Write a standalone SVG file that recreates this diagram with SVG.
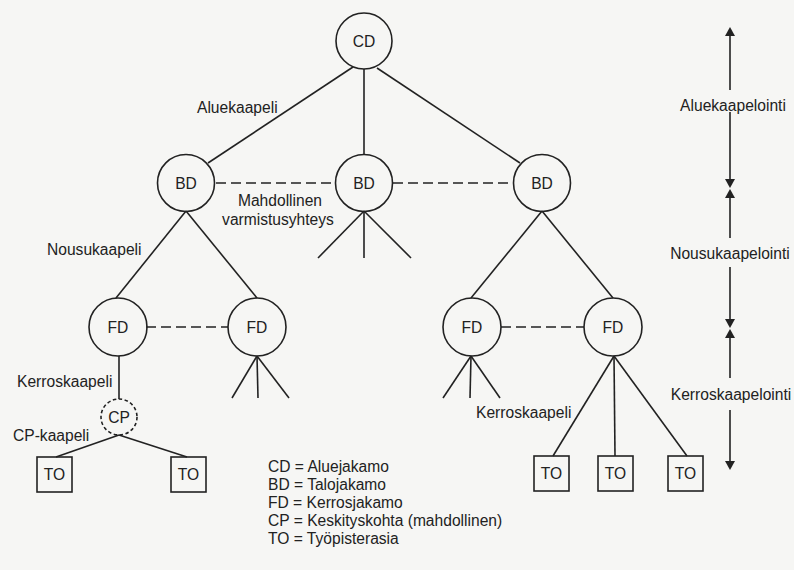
<svg xmlns="http://www.w3.org/2000/svg" width="794" height="570" viewBox="0 0 794 570">
<style>
.bg{fill:#f6f6f4}
.n{fill:none;stroke:#222;stroke-width:1.6}
.c{stroke:#222;stroke-width:1.6;fill:none}
.d{stroke:#222;stroke-width:1.6;fill:none;stroke-dasharray:10 5}
.cp{fill:none;stroke:#222;stroke-width:1.6;stroke-dasharray:3.5 2.5}
text{font-family:"Liberation Sans",Arial,sans-serif;font-size:15.6px;fill:#222}
.m{text-anchor:middle}
.ah{fill:#222}
</style>
<rect class="bg" x="0" y="0" width="794" height="570"/>
<g id="connectors">
  <line class="c" x1="353" y1="67" x2="208" y2="163"/>
  <line class="c" x1="364" y1="69" x2="364" y2="154"/>
  <line class="c" x1="377" y1="68" x2="520" y2="163"/>
  <line class="d" x1="216" y1="183" x2="335" y2="183"/>
  <line class="d" x1="393" y1="183" x2="513" y2="183"/>
  <line class="c" x1="186" y1="211" x2="116" y2="298"/>
  <line class="c" x1="186" y1="211" x2="257" y2="298"/>
  <line class="c" x1="364" y1="211" x2="318" y2="258"/>
  <line class="c" x1="364" y1="211" x2="364" y2="258"/>
  <line class="c" x1="364" y1="211" x2="411" y2="258"/>
  <line class="c" x1="542" y1="211" x2="471" y2="298"/>
  <line class="c" x1="542" y1="211" x2="613" y2="298"/>
  <line class="d" x1="146" y1="327" x2="228" y2="327"/>
  <line class="d" x1="501" y1="327" x2="584" y2="327"/>
  <line class="c" x1="119" y1="356" x2="119" y2="399"/>
  <line class="c" x1="257" y1="356" x2="232" y2="398"/>
  <line class="c" x1="257" y1="356" x2="258" y2="398"/>
  <line class="c" x1="257" y1="356" x2="289" y2="398"/>
  <line class="c" x1="471" y1="356" x2="443" y2="398"/>
  <line class="c" x1="471" y1="356" x2="470" y2="398"/>
  <line class="c" x1="471" y1="356" x2="500" y2="398"/>
  <line class="c" x1="119" y1="435" x2="56" y2="457"/>
  <line class="c" x1="119" y1="435" x2="187" y2="457"/>
  <line class="c" x1="614" y1="356" x2="553" y2="456"/>
  <line class="c" x1="614" y1="356" x2="615" y2="456"/>
  <line class="c" x1="614" y1="356" x2="687" y2="456"/>
</g>
<g id="CD"><circle class="n" cx="364" cy="41" r="28"/><text class="m" x="364" y="46.5">CD</text></g>
<g id="BD1"><circle class="n" cx="186" cy="183" r="28.5"/><text class="m" x="186" y="188.5">BD</text></g>
<g id="BD2"><circle class="n" cx="364" cy="183" r="28.5"/><text class="m" x="364" y="188.5">BD</text></g>
<g id="BD3"><circle class="n" cx="542" cy="183" r="28.5"/><text class="m" x="542" y="188.5">BD</text></g>
<g id="FD1"><circle class="n" cx="118" cy="327" r="29"/><text class="m" x="118" y="332.5">FD</text></g>
<g id="FD2"><circle class="n" cx="257" cy="327" r="29"/><text class="m" x="257" y="332.5">FD</text></g>
<g id="FD3"><circle class="n" cx="472" cy="327" r="29"/><text class="m" x="472" y="332.5">FD</text></g>
<g id="FD4"><circle class="n" cx="613" cy="327" r="29"/><text class="m" x="613" y="332.5">FD</text></g>
<g id="CP"><circle class="cp" cx="119" cy="417" r="18"/><text class="m" x="119" y="422.5">CP</text></g>
<g id="TO1"><rect class="n" x="37" y="457" width="35" height="35"/><text class="m" x="54.5" y="480">TO</text></g>
<g id="TO2"><rect class="n" x="171" y="457" width="35" height="35"/><text class="m" x="188.5" y="480">TO</text></g>
<g id="TO3"><rect class="n" x="534" y="456" width="35" height="35"/><text class="m" x="551.5" y="479">TO</text></g>
<g id="TO4"><rect class="n" x="598" y="456" width="35" height="35"/><text class="m" x="615.5" y="479">TO</text></g>
<g id="TO5"><rect class="n" x="668" y="456" width="35" height="35"/><text class="m" x="685.5" y="479">TO</text></g>
<g id="labels">
  <text x="197" y="113">Aluekaapeli</text>
  <text class="m" x="280" y="206">Mahdollinen</text>
  <text class="m" x="278" y="225">varmistusyhteys</text>
  <text x="47" y="255">Nousukaapeli</text>
  <text x="17" y="387">Kerroskaapeli</text>
  <text x="13" y="441">CP-kaapeli</text>
  <text x="476" y="418">Kerroskaapeli</text>
</g>
<g id="legend">
  <text x="268" y="472">CD = Aluejakamo</text>
  <text x="268" y="490">BD = Talojakamo</text>
  <text x="268" y="508">FD = Kerrosjakamo</text>
  <text x="268" y="526">CP = Keskityskohta (mahdollinen)</text>
  <text x="268" y="544">TO = Työpisterasia</text>
</g>
<g id="scale">
  <line class="c" x1="730" y1="34" x2="730" y2="90"/>
  <polygon class="ah" points="730,27 725,36 735,36"/>
  <text class="m" x="733" y="111">Aluekaapelointi</text>
  <line class="c" x1="730" y1="112" x2="730" y2="181"/>
  <polygon class="ah" points="730,188 725,179 735,179"/>
  <polygon class="ah" points="730,189 725,198 735,198"/>
  <line class="c" x1="730" y1="196" x2="730" y2="238"/>
  <text class="m" x="730" y="259">Nousukaapelointi</text>
  <line class="c" x1="730" y1="267" x2="730" y2="321"/>
  <polygon class="ah" points="730,328 725,319 735,319"/>
  <polygon class="ah" points="730,329 725,338 735,338"/>
  <line class="c" x1="730" y1="336" x2="730" y2="378"/>
  <text class="m" x="731" y="400">Kerroskaapelointi</text>
  <line class="c" x1="730" y1="410" x2="730" y2="463"/>
  <polygon class="ah" points="730,470 725,461 735,461"/>
</g>
</svg>
